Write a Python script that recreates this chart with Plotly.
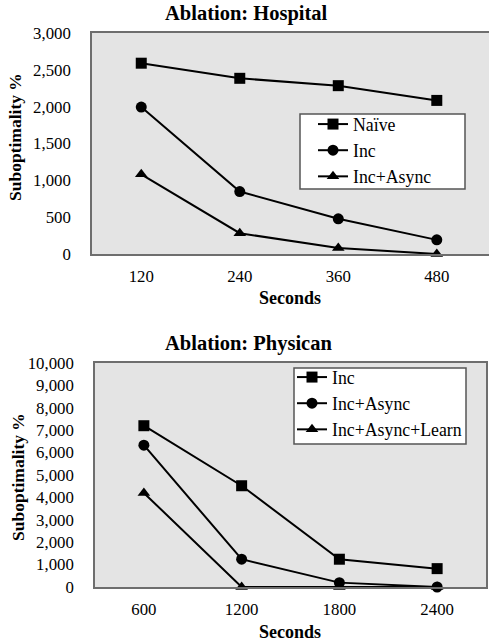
import plotly.graph_objects as go

# Top chart data
hosp_x = ["120", "240", "360", "480"]
hosp_naive = [2590, 2385, 2285, 2085]
hosp_inc = [1995, 848, 478, 192]
hosp_inc_async = [1082, 282, 80, 0]

# Bottom chart data
phys_x = ["600", "1200", "1800", "2400"]
phys_inc = [7200, 4520, 1240, 820]
phys_inc_async = [6330, 1240, 195, 0]
phys_inc_async_learn = [4200, 0, 0, 0]

FONT = "Times New Roman, Liberation Serif, Tinos, DejaVu Serif, serif"
BG = "#e4e4e4"
BORDER = "#6e6e6e"

fig = go.Figure()

def add(x, y, name, symbol, xa, ya, legend, size=11):
    fig.add_trace(go.Scatter(
        x=x, y=y, name=name, mode="lines+markers",
        line=dict(color="black", width=2),
        marker=dict(symbol=symbol, size=size, color="black"),
        xaxis=xa, yaxis=ya, legend=legend, cliponaxis=False,
    ))

add(hosp_x, hosp_naive, "Naïve", "square", "x", "y", "legend")
add(hosp_x, hosp_inc, "Inc", "circle", "x", "y", "legend")
add(hosp_x, hosp_inc_async, "Inc+Async", "triangle-up", "x", "y", "legend")

add(phys_x, phys_inc, "Inc", "square", "x2", "y2", "legend2")
add(phys_x, phys_inc_async, "Inc+Async", "circle", "x2", "y2", "legend2")
add(phys_x, phys_inc_async_learn, "Inc+Async+Learn", "triangle-up", "x2", "y2", "legend2")

W, H = 489, 643

def px(s):
    return min(max(s / W, 0.0), 1.0)

def py(s):
    return min(max((H - s) / H, 0.0), 1.0)

tickfont = dict(family=FONT, size=16.8, color="black")

xcommon = dict(type="category", showgrid=False, showline=True, mirror=True,
               linecolor=BORDER, linewidth=1.5, ticks="", tickfont=tickfont,
               ticklabelstandoff=6, zeroline=False, automargin=False)
ycommon = dict(showgrid=False, showline=True, mirror=True, linecolor=BORDER,
               linewidth=1.5, ticks="", tickfont=tickfont, tickformat=",d",
               ticklabelstandoff=16, zeroline=False, automargin=False)

legend_common = dict(font=dict(family=FONT, size=17.8, color="black"),
                     bgcolor="rgba(0,0,0,0)", borderwidth=0,
                     itemwidth=30, xanchor="left", yanchor="top",
                     tracegroupgap=0, itemclick=False, itemdoubleclick=False)

def ann(text, x, y, size, angle=0):
    return dict(text=text, x=px(x), y=py(y), xref="paper", yref="paper",
                showarrow=False, textangle=angle, xanchor="center",
                yanchor="middle", font=dict(family=FONT, size=size, color="black"))

def box(x0, y0, x1, y1):
    return dict(type="rect", xref="paper", yref="paper",
                x0=px(x0), x1=px(x1), y0=py(y1), y1=py(y0),
                fillcolor="white", line=dict(color="#555555", width=1.5),
                layer="above")

fig.update_layout(
    width=W, height=H,
    margin=dict(l=0, r=0, t=0, b=0, pad=0, autoexpand=False),
    paper_bgcolor="white",
    plot_bgcolor=BG,
    showlegend=True,
    hovermode=False,
    font=dict(family=FONT, color="black"),
    # top plot runs to the right edge of the picture
    xaxis=dict(domain=[px(92), 1.0], anchor="y", range=[-0.5, 3.53], **xcommon),
    yaxis=dict(domain=[py(254), py(33)], anchor="x", range=[0, 3000],
               dtick=500, **ycommon),
    xaxis2=dict(domain=[px(95), px(486)], anchor="y2", range=[-0.5, 3.5], **xcommon),
    yaxis2=dict(domain=[py(587), py(363)], anchor="x2", range=[0, 10000],
                dtick=1000, **ycommon),
    legend=dict(x=px(313), y=py(106), **legend_common),
    legend2=dict(x=px(292), y=py(359), **legend_common),
    shapes=[box(300, 114, 465, 189), box(294, 368, 466, 444)],
    annotations=[
        ann("<b>Ablation: Hospital</b>", 246, 14, 20.5),
        ann("<b>Seconds</b>", 290, 298, 18),
        ann("<b>Suboptimality %</b>", 15, 137, 17.5, -90),
        ann("<b>Ablation: Physican</b>", 248, 343, 20.5),
        ann("<b>Seconds</b>", 290, 632, 18),
        ann("<b>Suboptimality %</b>", 18, 477, 17.5, -90),
    ],
)

fig.write_html(
    "out.html",
    config={"displayModeBar": False, "staticPlot": False},
    post_script="document.body.style.margin='0px';document.body.style.overflow='hidden';",
)
